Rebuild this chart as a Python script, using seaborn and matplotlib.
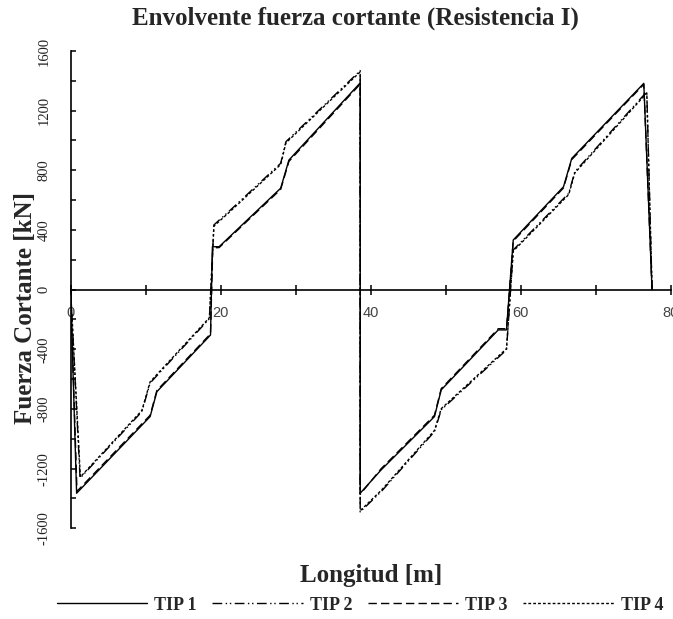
import numpy as np
import pandas as pd
import matplotlib
matplotlib.use("Agg")
import matplotlib.pyplot as plt
import seaborn as sns
from matplotlib.ticker import MultipleLocator
from matplotlib.lines import Line2D

# ---------------- data ----------------
series_names = ["TIP 1", "TIP 2", "TIP 3", "TIP 4"]

x_tip1 = [0, 0.8, 10.6, 11.5, 18.65, 18.9, 19.8, 28.0, 29.1, 38.6, 38.6, 41.4,
          48.5, 49.4, 57.0, 58.1, 59.0, 65.7, 66.8, 76.4, 77.5]
v_tip1 = [0, -1365, -851, -684, -304, 288, 288, 680, 869, 1386, -1365, -1208,
          -851, -672, -270, -270, 333, 690, 880, 1383, 0]

x_tip2 = [0, 1.26, 9.5, 10.6, 18.5, 19.1, 21.3, 28.0, 28.7, 38.6, 38.6, 41.4,
          48.5, 49.4, 58.1, 59.0, 66.4, 67.2, 76.8, 77.5]
v_tip2 = [0, -1264, -818, -626, -195, 434, 534, 847, 992, 1468, -1490, -1354,
          -952, -806, -404, 266, 646, 790, 1327, 0]

x_tip3 = [0, 0.85, 10.6, 11.5, 18.65, 18.95, 19.8, 28.0, 29.1, 38.6, 38.6, 41.4,
          48.5, 49.4, 57.0, 58.1, 59.0, 65.7, 66.8, 76.4, 77.5]
v_tip3 = [0, -1352, -842, -676, -296, 280, 282, 672, 860, 1378, -1372, -1200,
          -842, -664, -262, -262, 325, 682, 872, 1376, 0]

x_tip4 = [0, 1.3, 9.5, 10.6, 18.5, 19.1, 21.3, 28.0, 28.7, 38.6, 38.6, 41.4,
          48.5, 49.4, 58.1, 59.0, 66.4, 67.2, 76.8, 77.5]
v_tip4 = [0, -1256, -810, -618, -188, 426, 526, 839, 984, 1460, -1482, -1346,
          -944, -798, -396, 258, 638, 782, 1319, 0]

x_ticks_major = [0, 20, 40, 60, 80]
y_ticks_major = [-1600, -1200, -800, -400, 0, 400, 800, 1200, 1600]

title_text = "Envolvente fuerza cortante (Resistencia I)"
xlabel_text = "Longitud [m]"
ylabel_text = "Fuerza Cortante [kN]"

# ---------------- figure ----------------
sns.set_theme(style="white")
plt.rcParams["font.family"] = ["Liberation Serif", "DejaVu Serif"]
plt.rcParams["axes.unicode_minus"] = False

W, H = 673, 619
fig = plt.figure(figsize=(W / 100, H / 100), dpi=100)
ax = fig.add_axes([70.6 / W, 1 - 528.3 / H, 600.2 / W, 477.3 / H])
ax.set_facecolor("white")

frames = []
for name, xs, vs in zip(series_names, [x_tip1, x_tip2, x_tip3, x_tip4],
                        [v_tip1, v_tip2, v_tip3, v_tip4]):
    frames.append(pd.DataFrame({"Longitud": xs, "V": vs, "Serie": name}))
df = pd.concat(frames, ignore_index=True)

dash_map = {"TIP 1": "", "TIP 2": (7, 2.5, 1, 2, 1, 2.5), "TIP 3": (6, 3),
            "TIP 4": (2, 1.5)}

sns.lineplot(data=df, x="Longitud", y="V", style="Serie", dashes=dash_map,
             style_order=series_names, color="black", sort=False,
             estimator=None, linewidth=1.0, ax=ax, legend=False)

# axes & spines
ax.set_xlim(0, 80)
ax.set_ylim(-1600, 1600)
ax.spines["left"].set_position(("data", 0))
ax.spines["bottom"].set_position(("data", 0))
ax.spines["top"].set_visible(False)
ax.spines["right"].set_visible(False)
for s in ("left", "bottom"):
    ax.spines[s].set_color("black")
    ax.spines[s].set_linewidth(1.2)

ax.set_xticks(x_ticks_major)
ax.xaxis.set_minor_locator(MultipleLocator(10))
ax.set_yticks(y_ticks_major)
ax.yaxis.set_minor_locator(MultipleLocator(200))

ax.tick_params(axis="x", which="both", direction="inout", length=7, width=1.1,
               color="black", bottom=True)
ax.tick_params(axis="x", which="major", labelsize=10.5, pad=8.5,
               labelcolor="#444444", labelfontfamily="Liberation Sans")
ax.tick_params(axis="y", which="both", direction="in", length=3.5, width=1.1,
               color="black", left=True)
ax.tick_params(axis="y", which="major", labelsize=10.5, pad=14.5,
               labelcolor="#222222", labelrotation=90)
for lab in ax.get_yticklabels():
    lab.set_verticalalignment("center")

ax.set_xlabel(xlabel_text, fontsize=18, fontweight="bold", va="center")
ax.xaxis.set_label_coords(0.5, -0.098)
ax.set_ylabel(ylabel_text, fontsize=18, fontweight="bold", va="center")
ax.yaxis.set_label_coords(-0.075, 0.462)

fig.text(355 / W, 1 - 18 / H, title_text, fontsize=18, fontweight="bold",
         ha="center", va="center")

handles = [Line2D([], [], color="black", linewidth=1.0, linestyle="-")]
for name in series_names[1:]:
    h = Line2D([], [], color="black", linewidth=1.0)
    h.set_dashes(dash_map[name])
    handles.append(h)
fig.legend(handles, series_names, loc="center", bbox_to_anchor=(360 / W, 1 - 605 / H),
           ncol=4, frameon=False, handlelength=5.0, handletextpad=0.4,
           columnspacing=0.86, prop={"size": 13, "weight": "bold"})

fig.savefig("out.png", dpi=100, facecolor="white")
